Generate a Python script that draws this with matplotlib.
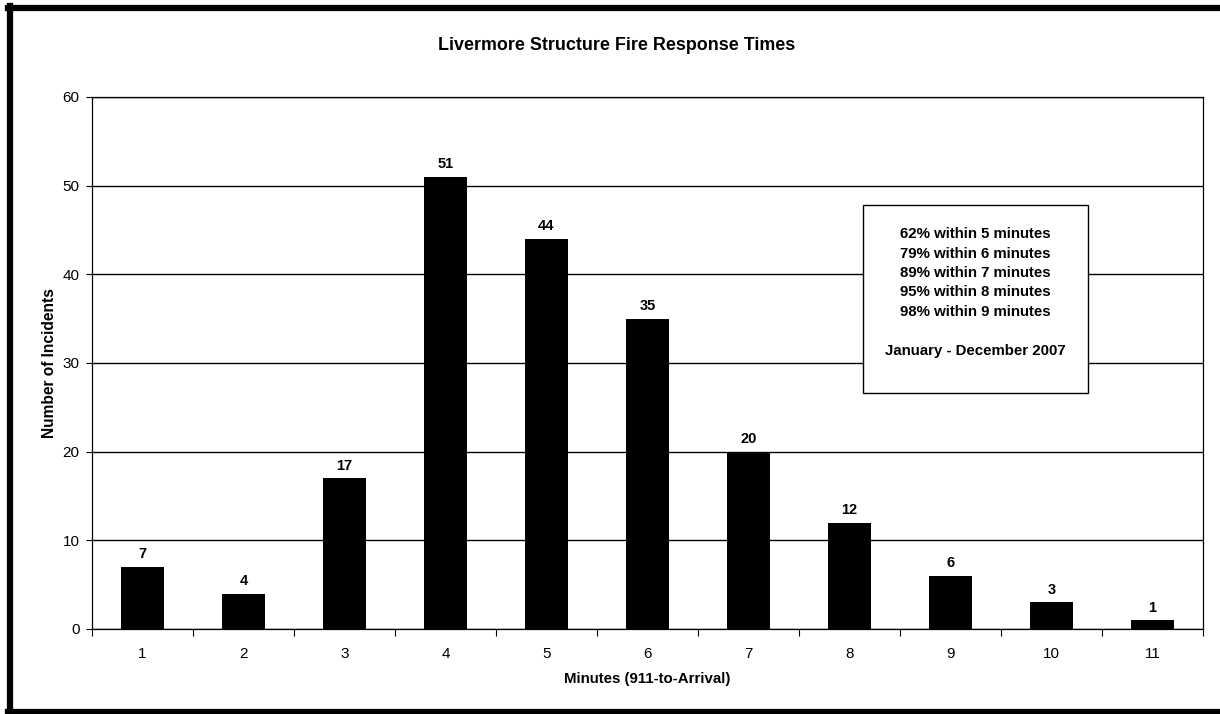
import matplotlib.pyplot as plt
from matplotlib.lines import Line2D

plt.rcParams['font.family'] = ['Liberation Sans', 'DejaVu Sans']

# Структурные пожары: распределение времени прибытия
minutes = ['1', '2', '3', '4', '5', '6', '7', '8', '9', '10', '11']
incidents = [7, 4, 17, 51, 44, 35, 20, 12, 6, 3, 1]
summary_lines = [
    "62% within 5 minutes",
    "79% within 6 minutes",
    "89% within 7 minutes",
    "95% within 8 minutes",
    "98% within 9 minutes",
]
period = "January - December 2007"

fig = plt.figure(figsize=(12.2, 7.14), dpi=100)
ax = fig.add_axes([92 / 1220, 1 - 629 / 714, (1203 - 92) / 1220, (629 - 97) / 714])

x = list(range(len(minutes)))
ax.bar(x, incidents, width=0.42, color='black', zorder=3)

for xi, v in zip(x, incidents):
    ax.annotate(str(v), (xi, v), xytext=(0, 4), textcoords='offset points',
                ha='center', va='bottom', fontsize=10.5, fontweight='bold')

ax.set_xlim(-0.5, len(minutes) - 0.5)
ax.set_ylim(0, 60)
ax.set_yticks(range(0, 61, 10))
ax.set_xticks(x)
ax.set_xticklabels(minutes)
# деления оси X — на границах категорий
ax.set_xticks([i - 0.5 for i in range(len(minutes) + 1)], minor=True)
ax.tick_params(axis='x', which='major', length=0, pad=13, labelsize=11)
ax.tick_params(axis='x', which='minor', length=5, width=0.8, direction='out')
ax.tick_params(axis='y', length=4, width=0.8, labelsize=11, pad=5)

ax.yaxis.grid(True, color='black', linewidth=1.0, zorder=0)
for side in ax.spines.values():
    side.set_linewidth(0.9)
    side.set_color('black')

ax.set_xlabel("Minutes (911-to-Arrival)", fontsize=10.8, fontweight='bold', labelpad=8)
ax.set_ylabel("Number of Incidents", fontsize=11.2, fontweight='bold', labelpad=4)

fig.text(617 / 1220, 1 - 45 / 714, "Livermore Structure Fire Response Times",
         ha='center', va='center', fontsize=12.9, fontweight='bold')

# блок со сводкой
fig.patches.append(plt.Rectangle((863 / 1220, 1 - 393 / 714), (1088 - 863) / 1220,
                                 (393 - 205) / 714, transform=fig.transFigure,
                                 fc='white', ec='black', lw=1.0, zorder=4))
box_text = "\n".join(summary_lines) + "\n\n" + period
fig.text(975 / 1220, 1 - 227 / 714, box_text, ha='center', va='top',
         fontsize=10.8, fontweight='bold', linespacing=1.5, zorder=5)

# рамка страницы
fig.add_artist(Line2D([8 / 1220, 1], [1 - 8 / 714, 1 - 8 / 714], color='black', lw=4.5))
fig.add_artist(Line2D([10 / 1220, 10 / 1220], [0, 1 - 6 / 714], color='black', lw=4.5))
fig.add_artist(Line2D([8 / 1220, 1], [2 / 714, 2 / 714], color='black', lw=4.5))

fig.savefig('out.png', dpi=100)
